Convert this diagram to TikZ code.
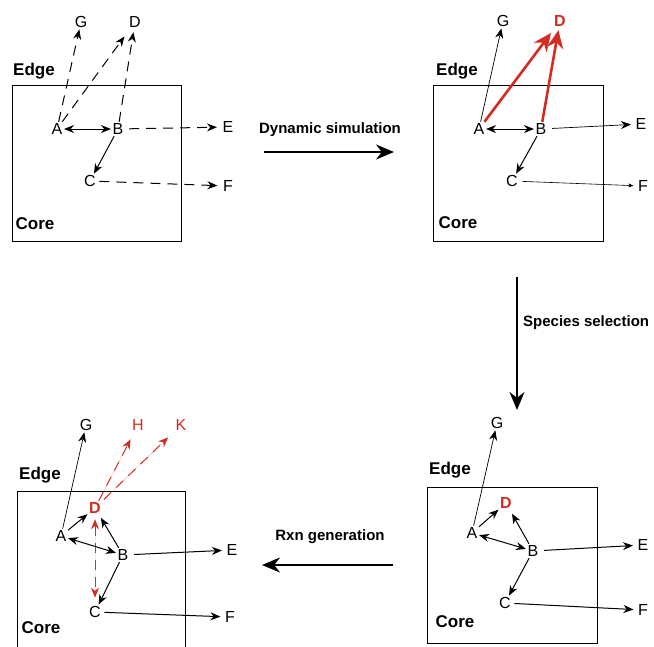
\documentclass[tikz,border=0pt]{standalone}
\usepackage{fontspec}
\setmainfont{Liberation Sans}
\usetikzlibrary{arrows.meta}
\definecolor{rxred}{RGB}{212,44,34}
\tikzset{
  sp/.style={font=\fontsize{16}{16}\selectfont, inner sep=1.5pt},
  spred/.style={sp, text=rxred, font=\bfseries\fontsize{16}{16}\selectfont},
  lbl/.style={font=\bfseries\fontsize{17}{17}\selectfont, inner sep=0pt},
  plbl/.style={font=\bfseries\fontsize{15}{15}\selectfont, inner sep=0pt},
  regbox/.style={draw, line width=1pt},
  rx/.style={-{Stealth[length=10pt,width=8pt]}, line width=1pt},
  rxb/.style={{Stealth[length=10pt,width=8pt]}-{Stealth[length=10pt,width=8pt]}, line width=1pt},
  dsh/.style={dash pattern=on 10pt off 7pt},
  thin rx/.style={-{Stealth[length=5pt,width=4pt]}, line width=0.6pt},
  bigred/.style={-{Stealth[length=18pt,width=16pt]}, line width=2.6pt, draw=rxred, fill=rxred},
  redd/.style={-{Stealth[length=10pt,width=8pt]}, line width=1pt, draw=rxred, fill=rxred, dash pattern=on 10pt off 7pt},
  redb/.style={{Stealth[length=10pt,width=8pt]}-{Stealth[length=10pt,width=8pt]}, line width=1pt, draw=rxred, fill=rxred, dash pattern=on 10pt off 7pt},
  proc/.style={-{Stealth[length=18pt,width=15pt]}, line width=2.2pt},
}
\begin{document}
\begin{tikzpicture}[x=1pt,y=-1pt]
\useasboundingbox (0,0) rectangle (654,646);

% ---------------- Panel 1 (top-left)
\draw[regbox] (12,85) rectangle (181,241);
\node[lbl] (edge1) at (34,71) {Edge};
\node[lbl] (core1) at (35,224) {Core};
\node[sp] (G1) at (81,22) {G};
\node[sp] (D1) at (135,22) {D};
\node[sp] (A1) at (57,129) {A};
\node[sp] (B1) at (118,129) {B};
\node[sp] (E1) at (228,127) {E};
\node[sp] (C1) at (90,181) {C};
\node[sp] (F1) at (228,186) {F};
\draw[rx,dsh] (A1) -- (G1);
\draw[rx,dsh,shorten >=9pt] (A1) -- (D1);
\draw[rx,dsh,shorten >=3pt] (B1) -- (D1);
\draw[rxb] (A1) -- (B1);
\draw[rx,dsh,shorten <=4pt,shorten >=4pt] (B1) -- (E1);
\draw[rx] (B1) -- (C1);
\draw[rx,dsh,shorten <=2pt,shorten >=4pt] (C1) -- (F1);

% process arrow 1
\node[plbl] (ds) at (330,130) {Dynamic simulation};
\coordinate (ds0) at (264,152);
\coordinate (ds1) at (394,152);
\draw[proc] (ds0) -- (ds1);

% ---------------- Panel 2 (top-right)
\draw[regbox] (433,85) rectangle (603,241);
\node[lbl] (edge2) at (457,71) {Edge};
\node[lbl] (core2) at (458,223) {Core};
\node[sp] (G2) at (503,21) {G};
\node[spred] (D2) at (560,21) {D};
\node[sp] (A2) at (479,129) {A};
\node[sp] (B2) at (541,129) {B};
\node[sp] (E2) at (641,124) {E};
\node[sp] (C2) at (512,181) {C};
\node[sp] (F2) at (643,186) {F};
\draw[rx,line width=0.7pt] (A2) -- (G2);
\draw[bigred,shorten >=6pt] (A2) -- (D2);
\draw[bigred,shorten >=2pt] (B2) -- (D2);
\draw[rxb] (A2) -- (B2);
\draw[rx,line width=0.7pt,shorten <=4pt,shorten >=3pt] (B2) -- (E2);
\draw[rx] (B2) -- (C2);
\draw[thin rx,shorten <=3pt,shorten >=3pt] (C2) -- (F2);

% process arrow 2
\node[plbl,anchor=west] (ss) at (523,323) {Species selection};
\coordinate (ss0) at (517,277);
\coordinate (ss1) at (517,410);
\draw[proc] (ss0) -- (ss1);

% ---------------- Panel 3 (bottom-right)
\draw[regbox] (427,487) rectangle (597,643);
\node[lbl] (edge3) at (450,470) {Edge};
\node[lbl] (core3) at (455,622) {Core};
\node[sp] (G3) at (497,423) {G};
\node[spred] (D3) at (506,503) {D};
\node[sp] (A3) at (472,533) {A};
\node[sp] (B3) at (533,551) {B};
\node[sp] (E3) at (643,545) {E};
\node[sp] (C3) at (505,603) {C};
\node[sp] (F3) at (643,610) {F};
\draw[rx,line width=0.7pt] (A3) -- (G3);
\draw[rx] (A3) -- (D3);
\draw[rx,shorten >=4pt] (B3) -- (D3);
\draw[rxb] (A3) -- (B3);
\draw[rx,shorten <=4pt,shorten >=3pt] (B3) -- (E3);
\draw[rx] (B3) -- (C3);
\draw[rx,shorten <=2pt,shorten >=3pt] (C3) -- (F3);

% process arrow 3
\node[plbl] (rg) at (330,537) {Rxn generation};
\coordinate (rg0) at (393,565);
\coordinate (rg1) at (262,565);
\draw[proc] (rg0) -- (rg1);

% ---------------- Panel 4 (bottom-left)
\draw[regbox] (17,650) -- (17,491) -- (185,491) -- (185,650);
\node[lbl] (edge4) at (40,475) {Edge};
\node[lbl] (core4) at (41,628) {Core};
\node[sp] (G4) at (86,425) {G};
\node[sp,text=rxred] (H4) at (138,425) {H};
\node[sp,text=rxred] (K4) at (181,425) {K};
\node[spred] (D4) at (95,508) {D};
\node[sp] (A4) at (61,536) {A};
\node[sp] (B4) at (123,555) {B};
\node[sp] (E4) at (232,550) {E};
\node[sp] (C4) at (95,612) {C};
\node[sp] (F4) at (230,617) {F};
\draw[rx,line width=0.7pt] (A4) -- (G4);
\draw[redd,shorten >=8pt] (D4) -- (H4);
\draw[redd,shorten <=2pt,shorten >=8pt] (D4) -- (K4);
\draw[rx] (A4) -- (D4);
\draw[rx,shorten >=3pt] (B4) -- (D4);
\draw[redb,shorten <=4pt,shorten >=7pt] (D4) -- (C4);
\draw[rxb] (A4) -- (B4);
\draw[rx,shorten <=4pt,shorten >=3pt] (B4) -- (E4);
\draw[rx] (B4) -- (C4);
\draw[rx,shorten <=2pt,shorten >=3pt] (C4) -- (F4);
\end{tikzpicture}
\end{document}
